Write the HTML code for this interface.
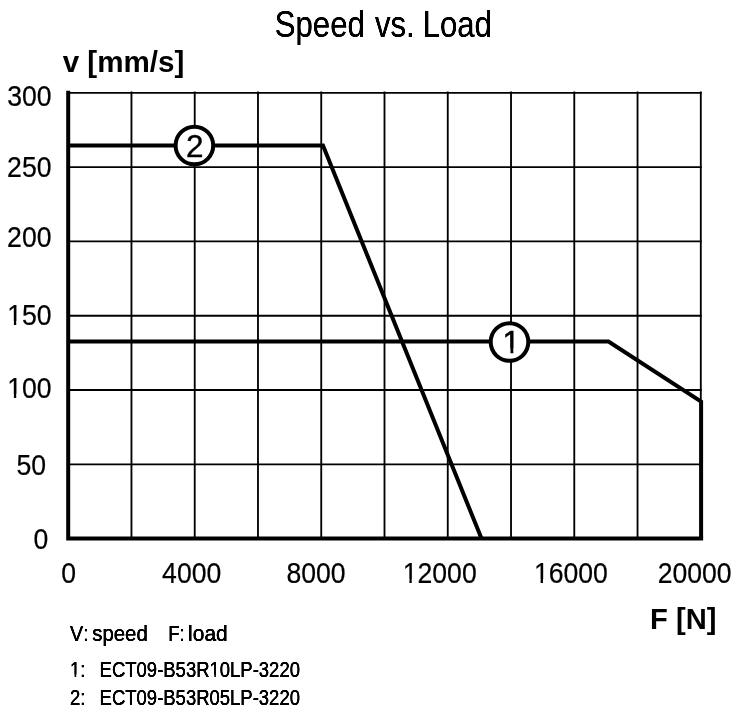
<!DOCTYPE html>
<html lang="en"><head><meta charset="utf-8"><title>Speed vs. Load</title>
<style>html,body{margin:0;padding:0;background:#fff}svg{display:block}text{font-kerning:none;font-family:"Liberation Sans",Arial,Helvetica,sans-serif;fill:#000}</style>
</head><body>
<svg width="750" height="717" viewBox="0 0 750 717">
<defs><filter id="hx" x="-5%" y="-20%" width="110%" height="140%" color-interpolation-filters="sRGB"><feGaussianBlur stdDeviation="0.5 0"/><feComponentTransfer><feFuncA type="linear" slope="1.6" intercept="0"/></feComponentTransfer></filter></defs>
<rect width="750" height="717" fill="#fff"/>
<g stroke="#000" stroke-width="1.85" fill="none" shape-rendering="auto">
<line x1="131.46" y1="91.42" x2="131.46" y2="538.60"/>
<line x1="194.72" y1="91.42" x2="194.72" y2="538.60"/>
<line x1="257.98" y1="91.42" x2="257.98" y2="538.60"/>
<line x1="321.24" y1="91.42" x2="321.24" y2="538.60"/>
<line x1="384.50" y1="91.42" x2="384.50" y2="538.60"/>
<line x1="447.76" y1="91.42" x2="447.76" y2="538.60"/>
<line x1="511.02" y1="91.42" x2="511.02" y2="538.60"/>
<line x1="574.28" y1="91.42" x2="574.28" y2="538.60"/>
<line x1="637.54" y1="91.42" x2="637.54" y2="538.60"/>
<line x1="700.80" y1="91.42" x2="700.80" y2="538.60"/>
<line x1="68.20" y1="464.31" x2="701.72" y2="464.31"/>
<line x1="68.20" y1="390.02" x2="701.72" y2="390.02"/>
<line x1="68.20" y1="315.73" x2="701.72" y2="315.73"/>
<line x1="68.20" y1="241.43" x2="701.72" y2="241.43"/>
<line x1="68.20" y1="167.14" x2="701.72" y2="167.14"/>
<line x1="68.20" y1="92.85" x2="701.72" y2="92.85"/>
</g>
<path d="M68.20 90.70 V538.60 H703.10" stroke="#000" stroke-width="4.00" fill="none" stroke-linejoin="miter"/>
<g stroke="#000" stroke-width="4.00" fill="none" stroke-linejoin="miter" stroke-linecap="butt">
<path d="M68.20 145.5 H323.0 L481.5 538.60"/>
<path d="M68.20 341.5 H608.5 L701.10 401.6 V538.60"/>
</g>
<g stroke="#000" stroke-width="4" fill="#fff">
<circle cx="194.4" cy="145.5" r="18.8"/>
<circle cx="509.5" cy="342.0" r="18.8"/>
</g>
<text x="194.85" y="156.9" font-size="31.5" text-anchor="middle" stroke="#000" stroke-width="0.4">2</text>
<clipPath id="k1"><path clip-rule="evenodd" d="M-400 -60H600V30H-400ZM0.77 -4.05H7.92V3H0.77ZM10.71 -4.05H18.07V3H10.71Z"/></clipPath>
<text transform="translate(502.6 352.6)" clip-path="url(#k1)" font-size="31.3" stroke="#000" stroke-width="0.6">1</text>
<text filter="url(#hx)" transform="translate(270 36.8) scale(0.830 1)" font-size="37.50"><tspan x="5.78">Speed</tspan><tspan x="116.02"> vs.</tspan><tspan x="173.49"> Load</tspan></text>
<text x="62.7" y="71.7" font-size="29.6" font-weight="bold">v [mm/s]</text>
<text transform="translate(650.1 628.9) scale(0.985 1.02)" font-size="29.6" font-weight="bold">F [N]</text>
<text transform="translate(29.40 105.50) scale(0.9270 1)" font-size="28.70" text-anchor="middle" stroke="#000" stroke-width="0.22">300</text>
<text transform="translate(29.30 177.30) scale(0.9270 1)" font-size="28.70" text-anchor="middle" stroke="#000" stroke-width="0.22">250</text>
<text transform="translate(29.30 247.40) scale(0.9270 1)" font-size="28.70" text-anchor="middle" stroke="#000" stroke-width="0.22">200</text>
<clipPath id="k2"><path clip-rule="evenodd" d="M-400 -60H600V30H-400ZM-23.24 -3.69H-16.73V3H-23.24ZM-14.19 -3.69H-7.48V3H-14.19Z"/></clipPath>
<text transform="translate(29.40 324.70) scale(0.9270 1)" font-size="28.70" text-anchor="middle" stroke="#000" stroke-width="0.22" clip-path="url(#k2)">150</text>
<clipPath id="k3"><path clip-rule="evenodd" d="M-400 -60H600V30H-400ZM-23.24 -3.69H-16.73V3H-23.24ZM-14.19 -3.69H-7.48V3H-14.19Z"/></clipPath>
<text transform="translate(29.40 397.60) scale(0.9270 1)" font-size="28.70" text-anchor="middle" stroke="#000" stroke-width="0.22" clip-path="url(#k3)">100</text>
<text transform="translate(31.30 474.50) scale(0.9270 1)" font-size="28.70" text-anchor="middle" stroke="#000" stroke-width="0.22">50</text>
<text transform="translate(41.00 548.50) scale(0.9270 1)" font-size="28.70" text-anchor="middle" stroke="#000" stroke-width="0.22">0</text>
<text transform="translate(68.70 582.60) scale(0.9270 1)" font-size="28.70" text-anchor="middle" stroke="#000" stroke-width="0.22">0</text>
<text transform="translate(191.70 582.60) scale(0.9270 1)" font-size="28.70" text-anchor="middle" stroke="#000" stroke-width="0.22">4000</text>
<text transform="translate(316.00 582.60) scale(0.9270 1)" font-size="28.70" text-anchor="middle" stroke="#000" stroke-width="0.22">8000</text>
<clipPath id="k4"><path clip-rule="evenodd" d="M-400 -60H600V30H-400ZM-39.20 -3.69H-32.69V3H-39.20ZM-30.15 -3.69H-23.44V3H-30.15Z"/></clipPath>
<text transform="translate(439.70 582.60) scale(0.9270 1)" font-size="28.70" text-anchor="middle" stroke="#000" stroke-width="0.22" clip-path="url(#k4)">12000</text>
<clipPath id="k5"><path clip-rule="evenodd" d="M-400 -60H600V30H-400ZM-39.20 -3.69H-32.69V3H-39.20ZM-30.15 -3.69H-23.44V3H-30.15Z"/></clipPath>
<text transform="translate(570.90 582.60) scale(0.9270 1)" font-size="28.70" text-anchor="middle" stroke="#000" stroke-width="0.22" clip-path="url(#k5)">16000</text>
<text transform="translate(694.60 582.60) scale(0.9270 1)" font-size="28.70" text-anchor="middle" stroke="#000" stroke-width="0.22">20000</text>
<text filter="url(#hx)" transform="translate(70.10 640.50) scale(0.870 1)" font-size="22.70" stroke="#000" stroke-width="0.18">V: </text>
<text filter="url(#hx)" transform="translate(92.20 640.50) scale(0.899 1)" font-size="22.70" stroke="#000" stroke-width="0.18">speed    </text>
<text filter="url(#hx)" transform="translate(168.20 640.50) scale(0.815 1)" font-size="22.70" stroke="#000" stroke-width="0.18">F: </text>
<text filter="url(#hx)" transform="translate(188.10 640.50) scale(0.923 1)" font-size="22.70" stroke="#000" stroke-width="0.18">load</text>
<clipPath id="k6"><path clip-rule="evenodd" d="M-400 -60H600V30H-400ZM0.55 -2.92H5.71V3H0.55ZM7.71 -2.92H13.02V3H7.71Z"/></clipPath>
<text filter="url(#hx)" transform="translate(69.90 677.40) scale(0.815 1)" font-size="22.70" stroke="#000" stroke-width="0.18" clip-path="url(#k6)">1:   </text>
<clipPath id="k7"><path clip-rule="evenodd" d="M-400 -60H600V30H-400ZM135.55 -2.92H140.70V3H135.55ZM142.71 -2.92H148.02V3H142.71Z"/></clipPath>
<text filter="url(#hx)" transform="translate(99.60 677.40) scale(0.815 1)" font-size="22.70" stroke="#000" stroke-width="0.18" clip-path="url(#k7)">ECT09-B53R10LP-3220</text>
<text filter="url(#hx)" transform="translate(69.90 704.60) scale(0.815 1)" font-size="22.70" stroke="#000" stroke-width="0.18">2:   </text>
<text filter="url(#hx)" transform="translate(99.60 704.60) scale(0.815 1)" font-size="22.70" stroke="#000" stroke-width="0.18">ECT09-B53R05LP-3220</text>
</svg>
</body></html>
